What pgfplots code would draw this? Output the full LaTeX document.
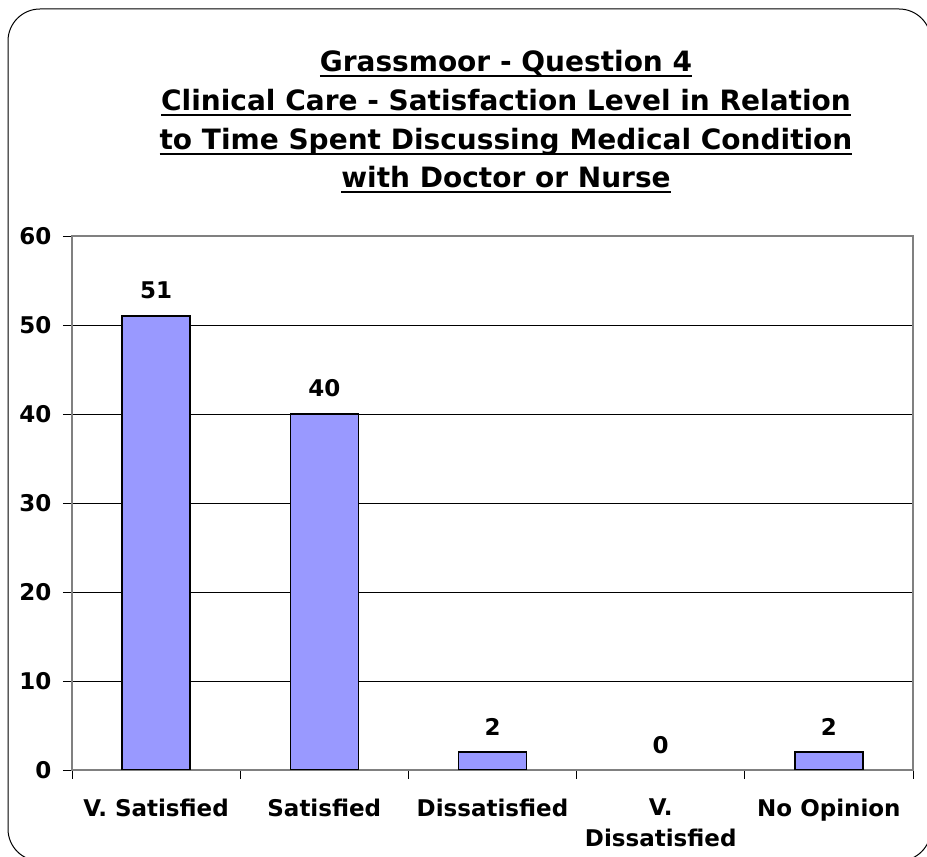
\documentclass[border=0pt]{standalone}
\usepackage{pgfplots}
\pgfplotsset{compat=1.18}
\usepackage{fontspec}
\setmainfont{DejaVu Sans}
\definecolor{barblue}{HTML}{9999FF}
\definecolor{axgray}{HTML}{808080}
\newcommand\ul[1]{\setbox0\hbox{#1}\rlap{\rule[-5pt]{\wd0}{2.2pt}}\box0}
\begin{document}
\begin{tikzpicture}[x=1pt,y=1pt]
\useasboundingbox (0,0) rectangle (927,857);
\draw[line width=1pt, rounded corners=32pt] (8,-4) rectangle (931,848);
\begin{scope}[every node/.style={anchor=base, font=\fontsize{28}{34}\selectfont\bfseries, inner sep=0pt}]
\node at (506,785) {\ul{Grassmoor - Question 4}};
\node at (506,746) {\ul{Clinical Care - Satisfaction Level in Relation}};
\node at (506,707) {\ul{to Time Spent Discussing Medical Condition}};
\node at (506,669) {\ul{with Doctor or Nurse}};
\end{scope}
\begin{axis}[
  at={(72pt,87pt)}, anchor=south west,
  scale only axis, width=841pt, height=534pt,
  xmin=-0.5, xmax=4.5, ymin=0, ymax=60,
  ytick={0,10,...,60},
  xtick={0,1,2,3,4},
  xticklabels={V. Satisfied,Satisfied,Dissatisfied,{V.\\Dissatisfied},No Opinion},
  minor xtick={-0.5,0.5,...,4.5},
  xtick pos=bottom, ytick pos=left,
  tick align=outside,
  major x tick style={draw=none},
  minor tick length=9pt,
  major tick length=9pt,
  tick style={black, line width=0.8pt},
  ymajorgrids,
  grid style={black, line width=0.8pt},
  axis line style={axgray, line width=1.6pt},
  /pgf/number format/assume math mode=true,
  ticklabel style={font=\fontsize{23}{31}\selectfont\bfseries},
  xticklabel style={align=center, yshift=-16pt},
  yticklabel style={xshift=-8pt},
  bar width=68pt,
  nodes near coords,
  every node near coord/.append style={font=\fontsize{23}{28}\selectfont\bfseries, yshift=13pt},
]
\addplot[ybar, fill=barblue, draw=black, line width=1.6pt] coordinates {(0,51) (1,40) (2,2) (4,2)};
\addplot[ybar, draw=none, fill=none] coordinates {(3,0)};
\end{axis}
\end{tikzpicture}
\end{document}
